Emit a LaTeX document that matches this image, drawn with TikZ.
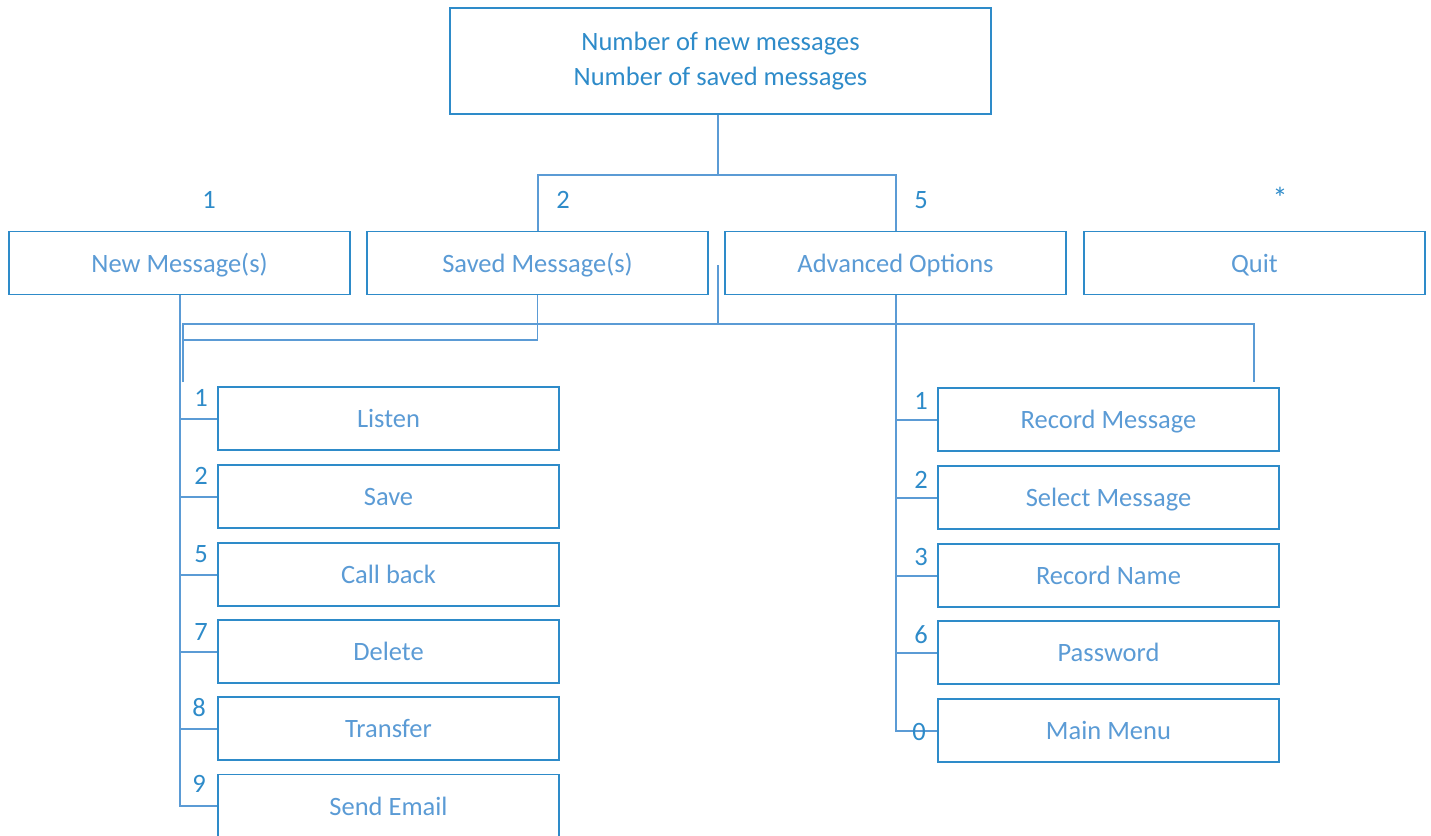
\documentclass[tikz,border=0pt]{standalone}
\usepackage{fontspec}
\setmainfont{Carlito}
\definecolor{boxc}{HTML}{2E8BC9}
\definecolor{linec}{HTML}{5B9BD5}
\definecolor{txtc}{HTML}{5B9BD5}
\definecolor{numc}{HTML}{2E8BC9}
\tikzset{
  mbox/.style={draw=boxc, line width=1.8pt, minimum width=341pt, minimum height=63pt, inner sep=0pt, text=txtc, text height=18pt, text depth=0pt, font=\fontsize{26.5}{32}\selectfont},
  conn/.style={draw=linec, line width=2pt},
  thinconn/.style={draw=linec, line width=1.3pt},
  num/.style={text=numc, inner sep=0pt, font=\fontsize{26.5}{32}\selectfont}
}
\begin{document}
\begin{tikzpicture}[x=1pt,y=-1pt]
\useasboundingbox (0,0) rectangle (1431,835);
% top
\node[mbox, minimum width=541pt, minimum height=106pt, text=numc, align=center, text height=, text depth=] (top) at (720.5,61) {Number of new messages\\[3pt]Number of saved messages};
% row
\node[mbox] (nm) at (179.5,263) {New Message(s)};
\node[mbox] (sm) at (537.5,263) {Saved Message(s)};
\node[mbox] (ao) at (895.5,263) {Advanced Options};
\node[mbox] (quit) at (1254.5,263) {Quit};
\node[num] (n1) at (209,200) {1};
\node[num] (n2) at (563,200) {2};
\node[num] (n5) at (921,200) {5};
\node[num, font=\fontsize{30}{32}\selectfont] (nq) at (1280,198) {*};
% left children
\node[mbox] (l1) at (388.5,418.5) {Listen};
\node[mbox] (l2) at (388.5,496.5) {Save};
\node[mbox] (l3) at (388.5,574.5) {Call back};
\node[mbox] (l4) at (388.5,651.5) {Delete};
\node[mbox] (l5) at (388.5,728.5) {Transfer};
\node[mbox] (l6) at (388.5,806) {Send Email};
% right children
\node[mbox] (r1) at (1108.5,419.5) {Record Message};
\node[mbox] (r2) at (1108.5,497.5) {Select Message};
\node[mbox] (r3) at (1108.5,575.5) {Record Name};
\node[mbox] (r4) at (1108.5,652.5) {Password};
\node[mbox] (r5) at (1108.5,730.5) {Main Menu};
% connectors top
\coordinate (tj) at (718,175);
\draw[conn] (top.south -| tj) -- (tj);
\draw[conn] (tj) -| (sm.north);
\draw[conn] (tj) -| (ao.north);
% left tree
\foreach \c in {l1,l2,l3,l4,l5,l6} \draw[conn] (nm.south) |- (\c.west);
% right tree
\foreach \c in {r1,r2,r3,r4,r5} \draw[conn] (ao.south) |- (\c.west);
% stray lines
\coordinate (smj) at (183,340);
\coordinate (a) at (183,382);
\coordinate (b) at (718,265);
\coordinate (c) at (1254,382);
\coordinate (h) at (0,324);
\draw[thinconn] (sm.south) |- (smj);
\draw[thinconn] (a) -- (a|-h) -- (c|-h) -- (c);
\draw[thinconn] (b) -- (b|-h);
% child labels
\node[num] (a1) at (201,398) {1};
\node[num] (a2) at (201,476) {2};
\node[num] (a5) at (201,554) {5};
\node[num] (a7) at (201,632) {7};
\node[num] (a8) at (199,708) {8};
\node[num] (a9) at (199,784) {9};
\node[num] (b1) at (921,401) {1};
\node[num] (b2) at (921,480) {2};
\node[num] (b3) at (921,557) {3};
\node[num] (b6) at (921,635) {6};
\node[num] (b0) at (919,732) {0};
\end{tikzpicture}
\end{document}
